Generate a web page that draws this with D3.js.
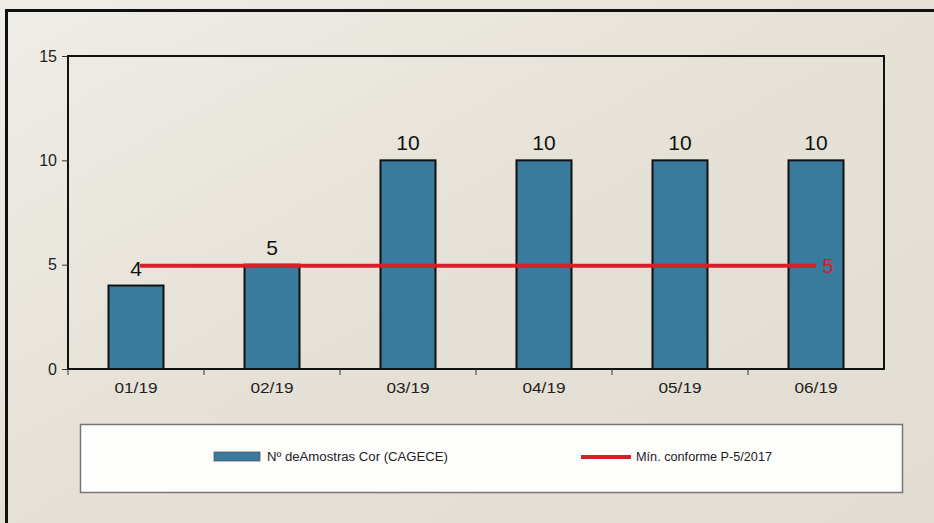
<!DOCTYPE html>
<html>
<head>
<meta charset="utf-8">
<script src="https://cdn.jsdelivr.net/npm/d3@7"></script>
<style>
  body { margin: 0; background: #e9e5dd; }
  svg { display: block; }
</style>
</head>
<body>
<div id="grafico"></div>
<script>
// Dados do gráfico
const meses = ["01/19", "02/19", "03/19", "04/19", "05/19", "06/19"];
const amostras = [4, 5, 10, 10, 10, 10];
const minimo = [5, 5, 5, 5, 5, 5];
const ticksY = [0, 5, 10, 15];
const legendas = ["Nº deAmostras Cor (CAGECE)", "Mín. conforme P-5/2017"];

const W = 934, H = 523;
const margin = { top: 56, right: 50, bottom: 154, left: 68 };
const width = W - margin.left - margin.right;
const height = H - margin.top - margin.bottom;
const fonte = "'Liberation Sans', Arial, sans-serif";

const svg = d3.select("#grafico").append("svg")
    .attr("width", W)
    .attr("height", H);

// Fundo com leve gradiente
const defs = svg.append("defs");
const grad = defs.append("linearGradient").attr("id", "fundo")
    .attr("x1", "0").attr("y1", "0").attr("x2", "1").attr("y2", "1");
grad.append("stop").attr("offset", "0").attr("stop-color", "#efede8");
grad.append("stop").attr("offset", "0.5").attr("stop-color", "#e6e1d6");
grad.append("stop").attr("offset", "1").attr("stop-color", "#e2ddd2");

svg.append("rect").attr("width", W).attr("height", H).attr("fill", "url(#fundo)");

// Moldura externa
svg.append("path")
    .attr("d", `M6.5,${H} L6.5,10.5 L${W},10.5`)
    .attr("fill", "none")
    .attr("stroke", "#111")
    .attr("stroke-width", 3);

const g = svg.append("g").attr("transform", `translate(${margin.left},${margin.top})`);

// Escalas
const x = d3.scaleBand().domain(meses).range([0, width]);
const y = d3.scaleLinear().domain([0, 15]).range([height, 0]);
const larguraBarra = 55;
const centro = i => x(meses[i]) + x.bandwidth() / 2;

// Caixa da área de plotagem
g.append("rect")
    .attr("width", width).attr("height", height)
    .attr("fill", "none").attr("stroke", "#111").attr("stroke-width", 2);

// Eixo Y
const eixoY = g.append("g")
    .call(d3.axisLeft(y).tickValues(ticksY).tickSize(6).tickPadding(5));
eixoY.select(".domain").remove();
eixoY.selectAll("line").attr("stroke", "#333");
eixoY.selectAll("text")
    .attr("font-family", fonte)
    .attr("font-size", 16).attr("fill", "#222");

// Eixo X (marcas entre categorias)
const eixoX = g.append("g")
    .attr("transform", `translate(0,${height})`)
    .call(d3.axisBottom(x).tickSize(0).tickPadding(13));
eixoX.select(".domain").remove();
eixoX.selectAll("text")
    .attr("font-family", fonte)
    .attr("font-size", 15.5).attr("fill", "#222")
    .attr("textLength", 43).attr("lengthAdjust", "spacingAndGlyphs");
g.append("g").selectAll("line")
    .data(meses)
    .join("line")
    .attr("x1", d => x(d)).attr("x2", d => x(d))
    .attr("y1", height).attr("y2", height + 6)
    .attr("stroke", "#333");

// Barras
g.selectAll(".barra")
    .data(amostras)
    .join("rect")
    .attr("class", "barra")
    .attr("x", (d, i) => centro(i) - larguraBarra / 2)
    .attr("width", larguraBarra)
    .attr("y", d => y(d))
    .attr("height", d => height - y(d))
    .attr("fill", "#3a7a9e")
    .attr("stroke", "#111")
    .attr("stroke-width", 2);

// Linha do mínimo
const linha = d3.line()
    .x((d, i) => centro(i) + (i === 0 ? 4 : 0))
    .y(d => y(d) + 1);
g.append("path")
    .datum(minimo)
    .attr("d", linha)
    .attr("fill", "none")
    .attr("stroke", "#d42027")
    .attr("stroke-width", 4);

// Rótulos das barras
g.selectAll(".rotulo")
    .data(amostras)
    .join("text")
    .attr("class", "rotulo")
    .attr("x", (d, i) => centro(i))
    .attr("y", d => y(d) - 10)
    .attr("text-anchor", "middle")
    .attr("font-family", fonte)
    .attr("font-size", 21)
    .attr("fill", "#111")
    .text(d => d);

// Rótulo final da linha
const ult = minimo.length - 1;
g.append("text")
    .attr("x", centro(ult) + 12)
    .attr("y", y(minimo[ult]) + 8)
    .attr("text-anchor", "middle")
    .attr("font-family", fonte)
    .attr("font-size", 20)
    .attr("fill", "#d42027")
    .text(minimo[ult]);

// Legenda
const leg = svg.append("g");
leg.append("rect")
    .attr("x", 80.5).attr("y", 424.5).attr("width", 822).attr("height", 68)
    .attr("fill", "#fdfdfc").attr("stroke", "#777").attr("stroke-width", 1.5);

leg.append("rect")
    .attr("x", 214).attr("y", 452).attr("width", 46).attr("height", 9)
    .attr("fill", "#3a7a9e").attr("stroke", "#555").attr("stroke-width", 0.8);
leg.append("text")
    .attr("x", 267).attr("y", 461)
    .attr("font-family", "'Liberation Sans Narrow', " + fonte)
    .attr("font-size", 12.5).attr("fill", "#222")
    .attr("textLength", 181).attr("lengthAdjust", "spacingAndGlyphs")
    .text(legendas[0]);

leg.append("line")
    .attr("x1", 581).attr("x2", 631).attr("y1", 457).attr("y2", 457)
    .attr("stroke", "#d42027").attr("stroke-width", 4);
leg.append("text")
    .attr("x", 636).attr("y", 461)
    .attr("font-family", "'Liberation Sans Narrow', " + fonte)
    .attr("font-size", 12.5).attr("fill", "#222")
    .attr("textLength", 136).attr("lengthAdjust", "spacingAndGlyphs")
    .text(legendas[1]);
</script>
</body>
</html>
